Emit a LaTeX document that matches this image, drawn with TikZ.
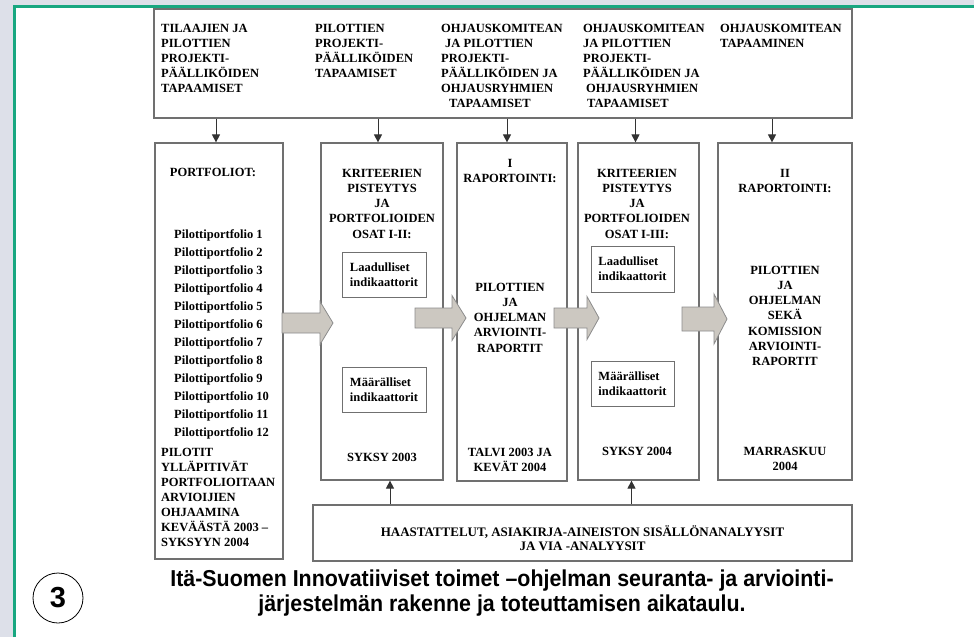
\documentclass[tikz,border=0pt]{standalone}
\usepackage{fontspec}
\setmainfont{Liberation Serif}
\newfontfamily\capfont[FakeStretch=0.93]{Liberation Sans}
\newfontfamily\numfont{Liberation Sans}
\usepackage{tikz}
\usetikzlibrary{calc}
\usetikzlibrary{fit}
\usetikzlibrary{arrows.meta}
\definecolor{pagegrey}{RGB}{221,224,233}
\definecolor{framegreen}{RGB}{24,167,128}
\definecolor{boxgrey}{RGB}{112,112,112}
\definecolor{fatgrey}{RGB}{204,200,193}
\tikzset{
    box/.style={draw=boxgrey, line width=1.2pt, inner sep=0pt},
    txt/.style={font=\bfseries\fontsize{12.5}{15}\selectfont, inner sep=0pt},
    thinarrow/.style={line width=0.9pt, black!80, -{Triangle[width=8pt,length=8pt]}},
    fatarrow/.style={fill=fatgrey, draw=black!45, line width=0.8pt}
}

\begin{document}
\begin{tikzpicture}[x=1pt,y=-1pt]
\useasboundingbox (0,0) rectangle (974,637);
% page
\fill[pagegrey] (0,0) rectangle (974,637);
\fill[white] (14,6) rectangle (974,637);
\draw[framegreen, line width=3pt] (14,637) -- (14,6) -- (974,6);

% boxes
\foreach \n/\xa/\ya/\xb/\yb in {top/154/9/852/118, c1/155/143/283/559, c2/321/143/443/480, c3/457/143/567/481, c4/578/143/699/480, c5/718/143/852/480, bot/313/505/852/561}{
    \node[box, fit={(\xa,\ya) (\xb,\yb)}] (\n) {};
}
\foreach \n/\xa/\ya/\xb/\yb/\t in {q2/342/252/426/297/Laadulliset, m2/342/367/426/412/Määrälliset, q4/591/246/674/292/Laadulliset, m4/591/361/674/406/Määrälliset}{
    \node[box, line width=1pt, fit={(\xa,\ya) (\xb,\yb)}] (\n) {};
    \node[txt, align=left] (\n-t) at (\n.center) {\t\\indikaattorit};
}

% block arrows
\foreach \xa/\xb/\xc/\yc/\s/\h in {282/320/333/323/10/21.5, 415/452/466/318/10/22.5, 554/587/599/318/10/21.5, 682/714/727/319/12/25}{
    \draw[fatarrow] (\xa,{\yc-\s}) -- (\xb,{\yc-\s}) -- (\xb,{\yc-\h}) -- (\xc,\yc) -- (\xb,{\yc+\h}) -- (\xb,{\yc+\s}) -- (\xa,{\yc+\s}) -- cycle;
}

% thin arrows
\foreach \c/\dx in {c1/-3,c2/-4,c3/-5,c4/-3,c5/-13}
    \draw[thinarrow] ($(top.south -| \c.north)+(\dx,0)$) -- ($(\c.north)+(\dx,0)$);
\foreach \c/\dx in {c2/8,c4/-7}
    \draw[thinarrow] ($(bot.north -| \c.south)+(\dx,0)$) -- ($(\c.south)+(\dx,0)$);

% meetings
\foreach \x/\lines in {161/{TILAAJIEN JA,PILOTTIEN,PROJEKTI-,PÄÄLLIKÖIDEN,TAPAAMISET}, 315/{PILOTTIEN,PROJEKTI-,PÄÄLLIKÖIDEN,TAPAAMISET}, 441/{OHJAUSKOMITEAN,\hspace*{4pt}JA PILOTTIEN,PROJEKTI-,PÄÄLLIKÖIDEN JA,OHJAUSRYHMIEN,\hspace*{8pt}TAPAAMISET}, 583/{OHJAUSKOMITEAN,JA PILOTTIEN,PROJEKTI-,PÄÄLLIKÖIDEN JA,\hspace*{3pt}OHJAUSRYHMIEN,\hspace*{4pt}TAPAAMISET}, 720/{OHJAUSKOMITEAN,TAPAAMINEN}}{
    \foreach \t [count=\i] in \lines
        \node[txt, anchor=base west] (h\x-\i) at (\x,{32+15*(\i-1)}) {\t};
}

% columns
\foreach \x/\y/\lines in {213/176/{PORTFOLIOT:}, 382/177/{KRITEERIEN,PISTEYTYS,JA,PORTFOLIOIDEN,OSAT I-II:}, 382/461/{SYKSY 2003}, 510/167/{I,RAPORTOINTI:}, 510/291/{PILOTTIEN,JA,OHJELMAN,ARVIOINTI-,RAPORTIT}, 510/456/{TALVI 2003 JA,KEVÄT 2004}, 637/177/{KRITEERIEN,PISTEYTYS,JA,PORTFOLIOIDEN,OSAT I-III:}, 637/455/{SYKSY 2004}, 785/177/{II,RAPORTOINTI:}, 785/274/{PILOTTIEN,JA,OHJELMAN,SEKÄ,KOMISSION,ARVIOINTI-,RAPORTIT}, 785/455/{MARRASKUU,2004}}{
    \foreach \t [count=\i] in \lines
        \node[txt, anchor=base] (k\x-\y-\i) at (\x,{\y+15.3*(\i-1)}) {\t};
}
\foreach \i in {1,...,12}
    \node[txt, anchor=base west] (p\i) at (174,{238+18*(\i-1)}) {Pilottiportfolio \i};
\foreach \t [count=\i] in {PILOTIT,YLLÄPITIVÄT,PORTFOLIOITAAN,ARVIOIJIEN,OHJAAMINA,KEVÄÄSTÄ 2003 –,SYKSYYN 2004}
    \node[txt, anchor=base west] (y\i) at (161,{456+15*(\i-1)}) {\t};
\node[txt, align=center, font=\bfseries\fontsize{13}{14}\selectfont] (bot-t) at ($(bot.center)+(0,5)$) {HAASTATTELUT, ASIAKIRJA-AINEISTON SISÄLLÖNANALYYSIT\\JA VIA -ANALYYSIT};

% caption
\node[draw, circle, line width=0.8pt, minimum size=50pt, inner sep=0pt, font=\numfont\bfseries\fontsize{29}{29}\selectfont] (num) at (58,598) {3};
\node[align=center, inner sep=0pt, font=\capfont\bfseries\fontsize{23}{25}\selectfont] (cap) at (502,593) {Itä-Suomen Innovatiiviset toimet –ohjelman seuranta- ja arviointi-\\järjestelmän rakenne ja toteuttamisen aikataulu.};
\end{tikzpicture}
\end{document}
